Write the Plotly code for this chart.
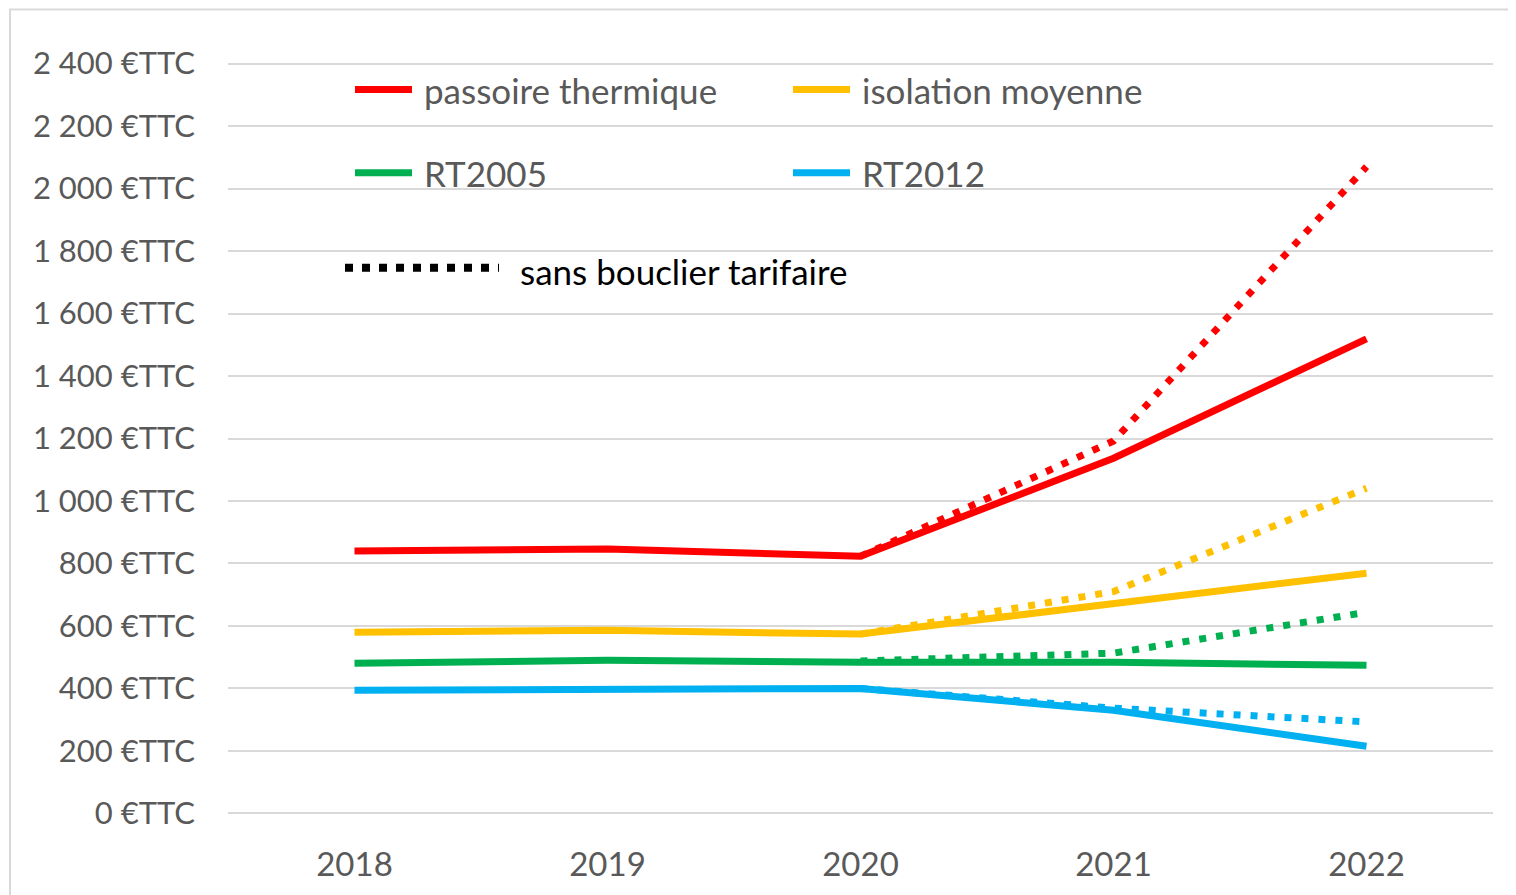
import plotly.graph_objects as go

# catégories (années)
years = ["2018", "2019", "2020", "2021", "2022"]

# factures annuelles, avec bouclier tarifaire (€TTC)
passoire = [840, 846, 823, 1137, 1519]
isolation = [580, 586, 574, 673, 769]
rt2005 = [481, 490, 484, 484, 474]
rt2012 = [394, 397, 400, 330, 215]

# sans bouclier tarifaire (à partir de 2020)
passoire_sans = [None, None, 823, 1192, 2070]
isolation_sans = [None, None, 574, 710, 1041]
rt2005_sans = [None, None, 488, 513, 644]
rt2012_sans = [None, None, 400, 337, 293]

# axe y
y_ticks = [0, 200, 400, 600, 800, 1000, 1200, 1400, 1600, 1800, 2000, 2200, 2400]
y_labels = ["0 €TTC", "200 €TTC", "400 €TTC", "600 €TTC", "800 €TTC", "1 000 €TTC",
            "1 200 €TTC", "1 400 €TTC", "1 600 €TTC", "1 800 €TTC", "2 000 €TTC",
            "2 200 €TTC", "2 400 €TTC"]

series = [
    ("passoire thermique", passoire, passoire_sans, "#FF0000"),
    ("isolation moyenne", isolation, isolation_sans, "#FFC000"),
    ("RT2005", rt2005, rt2005_sans, "#00B050"),
    ("RT2012", rt2012, rt2012_sans, "#00B0F0"),
]

# la page html ajoute 8px de marge : on compense
OFF = 8
W, H = 1516 - OFF, 895 - OFF
YPAD = 5  # débord de l'axe (unités) pour garder les lignes de grille à 0 et 2400
PAD = YPAD * 749 / 2400
L, R, T, B = 228 - OFF, 23, 64 - OFF - PAD, 82 - PAD
FONT = "Lato"
GREY = "#595959"


# coordonnées écran (référence) -> papier
def px(x):
    return (x - OFF - L) / (W - L - R)


def py(y):
    return (H + OFF - B - y) / (H - T - B)


fig = go.Figure()

for name, solid, sans, color in series:
    fig.add_trace(go.Scatter(x=years, y=solid, mode="lines", name=name,
                             line=dict(color=color, width=7), showlegend=False))
for name, solid, sans, color in series:
    fig.add_trace(go.Scatter(x=years, y=sans, mode="lines", name=name + " (sans bouclier)",
                             line=dict(color=color, width=7, dash="7px,10px"),
                             showlegend=False, connectgaps=False))

# légende faite à la main (2 colonnes + ligne pointillée)
shapes = []
annotations = []
legend_items = [
    ("passoire thermique", "#FF0000", 355, 90),
    ("isolation moyenne", "#FFC000", 793, 90),
    ("RT2005", "#00B050", 355, 173),
    ("RT2012", "#00B0F0", 793, 173),
]
for label, color, x0, y0 in legend_items:
    shapes.append(dict(type="line", xref="paper", yref="paper",
                       x0=px(x0), x1=px(x0 + 57), y0=py(y0), y1=py(y0),
                       line=dict(color=color, width=7)))
    annotations.append(dict(text=label, xref="paper", yref="paper",
                            x=px(x0 + 67), y=py(y0), xanchor="left", yanchor="middle",
                            showarrow=False, font=dict(family=FONT, size=35, color=GREY)))
shapes.append(dict(type="line", xref="paper", yref="paper",
                   x0=px(345), x1=px(499), y0=py(268), y1=py(268),
                   line=dict(color="black", width=8, dash="8px,9px")))
annotations.append(dict(text="sans bouclier tarifaire", xref="paper", yref="paper",
                        x=px(518), y=py(271), xanchor="left", yanchor="middle",
                        showarrow=False, font=dict(family=FONT, size=35, color="black")))

# cadre du graphique
shapes.append(dict(type="rect", xref="paper", yref="paper",
                   x0=px(10), x1=px(1540), y0=py(10), y1=py(920),
                   line=dict(color="#D9D9D9", width=2), layer="below"))

fig.update_layout(
    width=W, height=H,
    margin=dict(l=L, r=R, t=T, b=B),
    paper_bgcolor="white",
    plot_bgcolor="white",
    showlegend=False,
    shapes=shapes,
    annotations=annotations,
    font=dict(family=FONT, size=31, color=GREY),
    xaxis=dict(
        type="category", range=[-0.5, 4.5], showgrid=False, zeroline=False,
        showline=False, ticks="", ticklabelstandoff=27,
        tickfont=dict(family=FONT, size=33, color=GREY),
    ),
    yaxis=dict(
        range=[-YPAD, 2400 + YPAD], tickvals=y_ticks, ticktext=y_labels,
        showgrid=True, gridcolor="#D9D9D9", gridwidth=1.5,
        zeroline=False, showline=False, ticks="", ticklabelstandoff=32,
        tickfont=dict(family=FONT, size=31, color=GREY),
    ),
)

fig.write_html("out.html")
